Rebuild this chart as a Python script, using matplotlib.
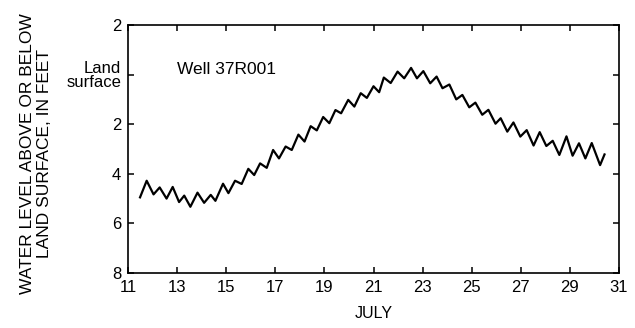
import numpy as np
import matplotlib.pyplot as plt

plt.rcParams['font.family'] = ['Liberation Sans', 'DejaVu Sans']

# daily-tide extremes (day of July, feet below land surface)
days = [11.49, 11.76, 12.04, 12.29, 12.57, 12.82, 13.08, 13.29, 13.54, 13.83,
        14.10, 14.37, 14.56, 14.87, 15.09, 15.36, 15.63, 15.90, 16.14, 16.38,
        16.65, 16.91, 17.15, 17.42, 17.67, 17.94, 18.19, 18.44, 18.69, 18.95,
        19.20, 19.45, 19.68, 19.97, 20.22, 20.48, 20.73, 21.00, 21.23, 21.42,
        21.70, 21.98, 22.25, 22.53, 22.77, 23.03, 23.31, 23.57, 23.81, 24.09,
        24.37, 24.62, 24.90, 25.15, 25.43, 25.68, 25.97, 26.18, 26.45, 26.70,
        26.98, 27.24, 27.52, 27.77, 28.04, 28.30, 28.57, 28.86, 29.11, 29.37,
        29.63, 29.89, 30.23, 30.41]
level = [4.95, 4.28, 4.83, 4.55, 5.00, 4.53, 5.14, 4.88, 5.33, 4.76,
         5.17, 4.85, 5.09, 4.40, 4.78, 4.28, 4.41, 3.80, 4.05, 3.58,
         3.76, 3.04, 3.38, 2.90, 3.04, 2.42, 2.70, 2.08, 2.25, 1.71,
         1.96, 1.43, 1.56, 1.02, 1.29, 0.75, 0.94, 0.47, 0.71, 0.12,
         0.34, -0.12, 0.15, -0.27, 0.15, -0.14, 0.35, 0.08, 0.55, 0.40,
         1.00, 0.82, 1.32, 1.13, 1.62, 1.42, 1.98, 1.76, 2.30, 1.93,
         2.50, 2.24, 2.86, 2.32, 2.88, 2.67, 3.24, 2.49, 3.27, 2.77,
         3.38, 2.76, 3.65, 3.22]

xticks = [11, 13, 15, 17, 19, 21, 23, 25, 27, 29, 31]
yticks = [-2, 0, 2, 4, 6, 8]
ylabels = ['2', 'Land\nsurface', '2', '4', '6', '8']

fig = plt.figure(figsize=(6.35, 3.28), dpi=100)
ax = fig.add_axes([0.2016, 0.1677, 0.7732, 0.7561])

ax.plot(days, level, color='black', lw=1.6, solid_joinstyle='round')

ax.set_xlim(11, 31)
ax.set_ylim(8, -2)
ax.set_xticks(xticks)
ax.set_yticks(yticks)
ax.set_yticklabels(ylabels)
for lab in ax.get_yticklabels():
    if 'Land' in lab.get_text():
        lab.set_fontsize(10)
        lab.set_linespacing(0.95)
        lab.set_multialignment('right')

ax.tick_params(direction='in', length=4, width=1.1, top=True, right=True,
               labelsize=12, pad=5)
for s in ax.spines.values():
    s.set_linewidth(1.2)

ax.text(13.0, -0.2, 'Well 37R001', fontsize=12.5, va='center', ha='left')

ax.set_xlabel('JULY', fontsize=11.5, labelpad=8)
ax.set_ylabel('WATER LEVEL ABOVE OR BELOW\nLAND SURFACE, IN FEET',
              fontsize=12.5, labelpad=10.5, linespacing=1.15)
ax.yaxis.label.set_y(0.48)

fig.savefig('out.png', dpi=100)
